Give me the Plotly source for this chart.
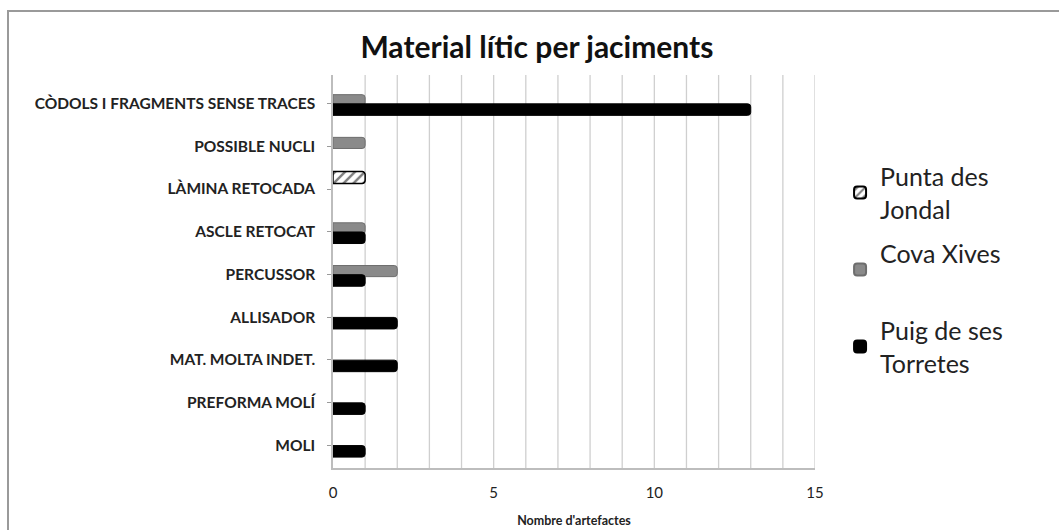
import plotly.graph_objects as go

categories = ["MOLI", "PREFORMA MOLÍ", "MAT. MOLTA INDET.", "ALLISADOR", "PERCUSSOR",
              "ASCLE RETOCAT", "LÀMINA RETOCADA", "POSSIBLE NUCLI",
              "CÒDOLS I FRAGMENTS SENSE TRACES"]
puig_torretes = [1, 1, 2, 2, 1, 1, 0, 0, 13]
cova_xives = [0, 0, 0, 0, 2, 1, 0, 1, 1]
punta_jondal = [0, 0, 0, 0, 0, 0, 1, 0, 0]

x_ticks = [0, 5, 10, 15]


def nz(vals):
    return [v if v else None for v in vals]


fig = go.Figure()
fig.add_trace(go.Bar(
    y=categories, x=nz(punta_jondal), orientation="h",
    name="Punta des<br>Jondal", legendgroup="a", width=0.28, offset=0.13,
    marker=dict(color="#ffffff", line=dict(color="#000000", width=1.5),
                pattern=dict(shape="/", fgcolor="#000000", bgcolor="#ffffff",
                             size=7, solidity=0.35)),
))
fig.add_trace(go.Bar(
    y=categories, x=nz(cova_xives), orientation="h",
    name="Cova Xives<br> ", legendgroup="b", width=0.26, offset=-0.05,
    marker=dict(color="#8a8a8a", line=dict(color="#6e6e6e", width=1)),
))
fig.add_trace(go.Bar(
    y=categories, x=nz(puig_torretes), orientation="h",
    name="Puig de ses<br>Torretes", legendgroup="c", width=0.27, offset=-0.275,
    marker=dict(color="#000000", line=dict(color="#000000", width=1)),
))

W, H = 1059, 530
l, r, t, b = 333, 244, 75, 62

fig.update_layout(
    width=W, height=H,
    margin=dict(l=l, r=r, t=t, b=b, autoexpand=False),
    paper_bgcolor="white", plot_bgcolor="white",
    barmode="overlay",
    barcornerradius=3,
    font=dict(family="Lato, Open Sans, sans-serif", color="#222222"),
    title=dict(text="<b>Material lític per jaciments</b>", x=0.507, xref="container",
               y=1 - 47 / H, yref="container", xanchor="center", yanchor="middle",
               font=dict(size=30, color="#111111")),
    legend=dict(x=1.052, xanchor="left", y=0.80, yanchor="top",
                traceorder="grouped", font=dict(size=25, color="#222222"),
                itemsizing="constant", tracegroupgap=9),
    showlegend=True,
    xaxis=dict(range=[0, 15], tickvals=x_ticks, ticktext=[str(v) for v in x_ticks],
               showgrid=False,
               showline=True, linecolor="#bdbdbd", linewidth=1.5,
               zeroline=False, ticks="", tickfont=dict(size=15, color="#222222"),
               ticklabelstandoff=10,
               title=dict(text="<b>Nombre d'artefactes</b>", font=dict(size=12.5, color="#222222"),
                          standoff=16),
               automargin=False, fixedrange=True),
    yaxis=dict(showgrid=False, showline=True, linecolor="#bdbdbd", linewidth=1.5,
               ticks="outside", ticklen=4, tickcolor="#9a9a9a",
               tickfont=dict(size=15.5, color="#222222", weight="bold"),
               ticklabelstandoff=9, categoryorder="array", categoryarray=categories,
               range=[-0.53, 8.67], automargin=False, fixedrange=True),
)

# vertical gridlines every unit
for v in range(1, 16):
    fig.add_shape(type="line", xref="x", yref="paper", x0=v, x1=v, y0=0, y1=1,
                  line=dict(color="#cfcfcf", width=1.3), layer="below")

# outer chart border
pw = W - l - r
ph = H - t - b
x0 = (8 - l) / pw
x1 = (1070 - l) / pw
y1 = (H - 11 - b) / ph
y0 = (-b - 10) / ph
fig.add_shape(type="rect", xref="paper", yref="paper", x0=x0, x1=x1, y0=y0, y1=y1,
              line=dict(color="#9a9a9a", width=2), fillcolor="rgba(0,0,0,0)")

fig.write_html("out.html", config={"displayModeBar": False},
               post_script="document.body.style.margin='0px';")
